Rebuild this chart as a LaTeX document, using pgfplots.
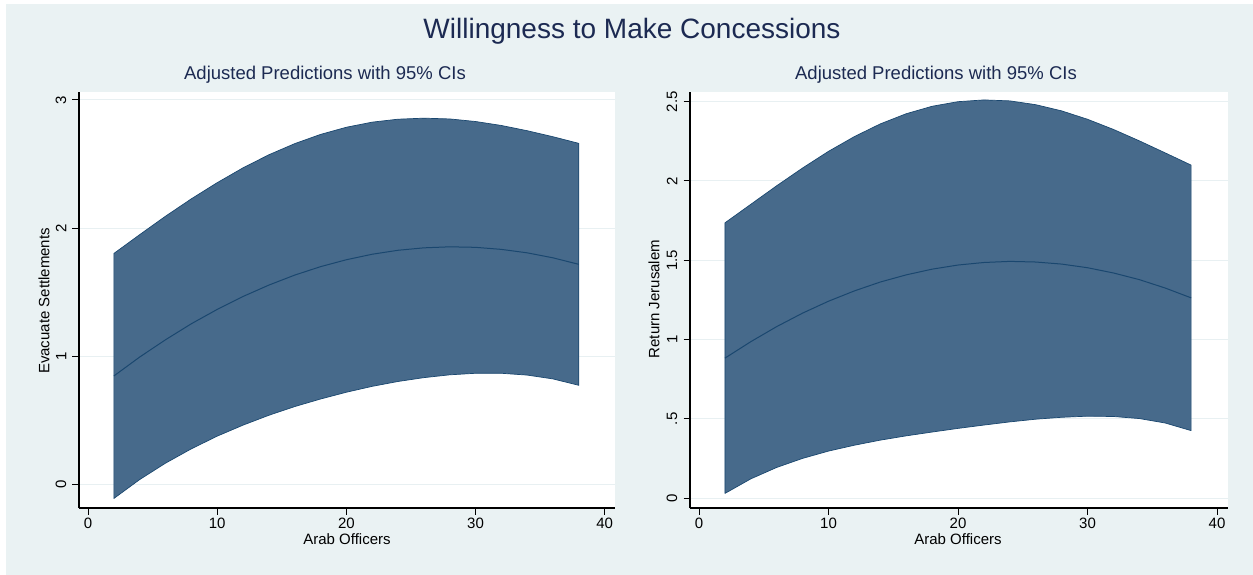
\documentclass[border=0pt]{standalone}
\usepackage{pgfplots}
\pgfplotsset{compat=1.18}
\usepackage{pgfplotstable}
\usepackage{fontspec}
\setmainfont{Liberation Sans}

\definecolor{bgc}{RGB}{234,242,243}
\definecolor{gridc}{RGB}{232,240,242}
\definecolor{bandc}{RGB}{71,106,139}
\definecolor{edgec}{RGB}{26,71,111}
\definecolor{titlec}{RGB}{28,42,82}

% Panel 1: predicted Evacuate Settlements (mid) and 95% CI band
\pgfplotstableread{
x mid
2 0.844
4 0.992
6 1.127
8 1.252
10 1.364
12 1.465
14 1.554
16 1.632
18 1.698
20 1.752
22 1.795
24 1.826
26 1.845
28 1.853
30 1.849
32 1.833
34 1.806
36 1.767
38 1.716
}\midA
% CI band outline: upper bound left to right, then lower bound right to left
\pgfplotstableread{
x y
2 1.801
4 1.948
6 2.092
8 2.228
10 2.354
12 2.470
14 2.572
16 2.659
18 2.731
20 2.787
22 2.827
24 2.850
26 2.858
28 2.852
30 2.832
32 2.801
34 2.760
36 2.713
38 2.661
38 0.771
36 0.821
34 0.851
32 0.865
30 0.865
28 0.853
26 0.831
24 0.801
22 0.763
20 0.717
18 0.664
16 0.605
14 0.537
12 0.460
10 0.374
8 0.275
6 0.163
4 0.035
2 -0.113
}\bandA

% Panel 2: predicted Return Jerusalem (mid) and 95% CI band
\pgfplotstableread{
x mid
2 0.883
4 0.987
6 1.082
8 1.167
10 1.242
12 1.307
14 1.363
16 1.408
18 1.444
20 1.470
22 1.486
24 1.493
26 1.489
28 1.476
30 1.453
32 1.420
34 1.378
36 1.325
38 1.263
}\midB
\pgfplotstableread{
x y
2 1.736
4 1.853
6 1.970
8 2.082
10 2.187
12 2.280
14 2.360
16 2.424
18 2.471
20 2.500
22 2.511
24 2.505
26 2.481
28 2.442
30 2.389
32 2.325
34 2.253
36 2.177
38 2.100
38 0.426
36 0.474
34 0.502
32 0.515
30 0.517
28 0.510
26 0.498
24 0.481
22 0.461
20 0.440
18 0.417
16 0.393
14 0.366
12 0.334
10 0.297
8 0.251
6 0.194
4 0.122
2 0.030
}\bandB

\newcommand{\tickfont}{\fontsize{15}{17}\selectfont}

\pgfplotsset{
  panel/.style={
    scale only axis,
    anchor=south west,
    height=416pt,
    axis lines*=left,
    axis line style={black, line width=1.1pt},
    tick align=outside,
    major tick length=6.5pt,
    tick style={black, line width=1pt},
    minor tick num=0,
    axis background/.style={fill=white},
    ymajorgrids,
    grid style={gridc, line width=1pt},
    xtick={0,10,20,30,40},
    xticklabels={0,10,20,30,40},
    xticklabel style={font=\tickfont, inner sep=3pt},
    yticklabel style={font=\tickfont, rotate=90, anchor=south, inner sep=6pt},
    xmin=-0.7, xmax=40.8,
  }
}

\begin{document}
\begin{tikzpicture}
\fill[white] (0pt,0pt) rectangle (1253pt,-575pt);
\fill[bgc] (6pt,-4pt) rectangle (1253pt,-575pt);

\node[font=\fontsize{28}{32}\selectfont, text=titlec] at (632pt,-31pt) {Willingness to Make Concessions};
\node[font=\fontsize{18.5}{21}\selectfont, text=titlec] at (325pt,-75pt) {Adjusted Predictions with 95\% CIs};
\node[font=\fontsize{18.5}{21}\selectfont, text=titlec] at (936pt,-75pt) {Adjusted Predictions with 95\% CIs};

\begin{axis}[panel, at={(79pt,-508pt)}, width=536pt,
  ymin=-0.1875, ymax=3.0625,
  ytick={0,1,2,3}, yticklabels={0,1,2,3}]
\addplot[fill=bandc, draw=edgec, line width=0.7pt, line join=round] table[x=x,y=y]{\bandA} -- cycle;
\addplot[edgec, line width=1pt, no marks, line join=round] table[x=x,y=mid]{\midA};
\end{axis}

\begin{axis}[panel, at={(690pt,-508pt)}, width=538pt,
  xmax=40.85,
  ymin=-0.062, ymax=2.561,
  ytick={0,0.5,1,1.5,2,2.5}, yticklabels={0,.5,1,1.5,2,2.5}]
\addplot[fill=bandc, draw=edgec, line width=0.7pt, line join=round] table[x=x,y=y]{\bandB} -- cycle;
\addplot[edgec, line width=1pt, no marks, line join=round] table[x=x,y=mid]{\midB};
\end{axis}

\node[font=\tickfont, rotate=90] at (44pt,-301pt) {Evacuate Settlements};
\node[font=\tickfont, rotate=90] at (654pt,-299pt) {Return Jerusalem};
\node[font=\tickfont] at (347pt,-539pt) {Arab Officers};
\node[font=\tickfont] at (958pt,-539pt) {Arab Officers};
\end{tikzpicture}
\end{document}
